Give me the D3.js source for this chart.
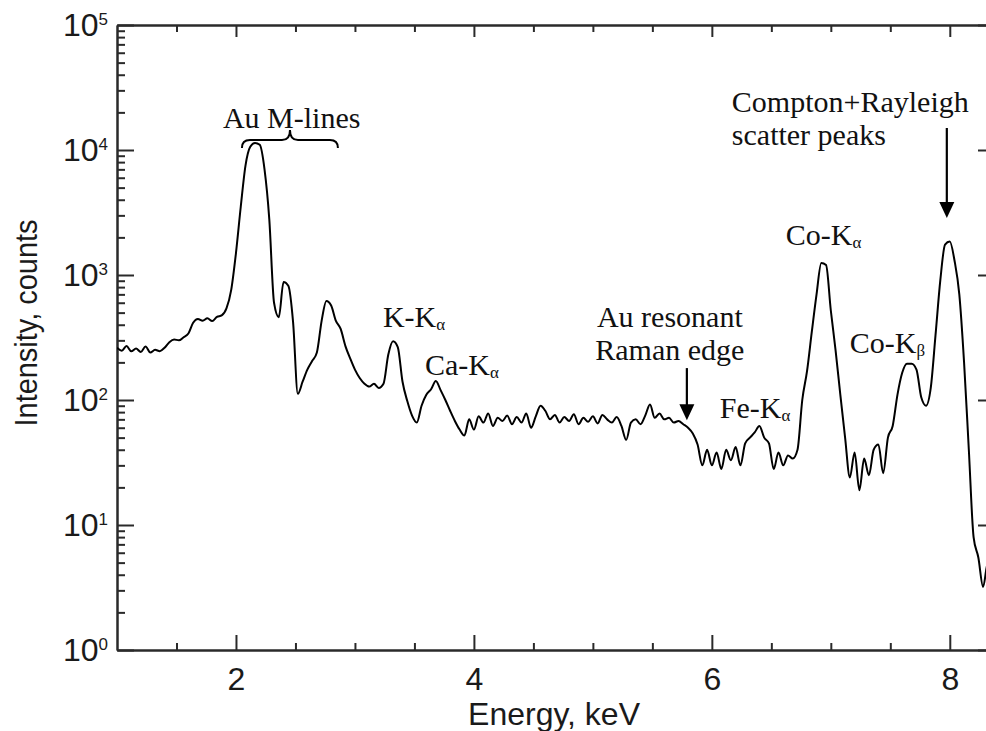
<!DOCTYPE html>
<html>
<head>
<meta charset="utf-8">
<script src="https://cdn.jsdelivr.net/npm/d3@7"></script>
<style>
  body { margin: 0; background: #fff; }
  svg { display: block; }
  .axis path, .axis line { stroke: #2a2a2a; stroke-width: 2; }
  .axis text { font-family: "Liberation Sans", Arial, Helvetica, sans-serif; font-size: 32px; fill: #1a1a1a; }
  .title { font-family: "Liberation Sans", Arial, Helvetica, sans-serif; font-size: 32px; fill: #1a1a1a; }
  .note { font-family: "Liberation Serif", "Times New Roman", serif; font-size: 30px; fill: #111; }
</style>
</head>
<body>
<svg id="chart" width="986" height="731"></svg>
<script>
// XRF spectrum: counts per 0.04 keV channel, starting at 1.00 keV
const channelStart = 1.0;
const channelWidth = 0.04;
const counts = [
  // 1.00 - 1.96 keV
  262, 248, 270, 245, 258, 242, 268, 240, 252, 246, 262, 290, 305, 300, 318, 340, 415, 445, 430, 450, 428, 462, 475, 540, 760,
  // 2.00 - 2.96 keV
  1500, 3500, 7500, 10600, 11400, 11000, 7000, 2800, 600, 460, 880, 820, 420, 112, 140, 175, 205, 240, 430, 620, 570, 430, 370, 270, 215,
  // 3.00 - 3.96 keV
  175, 150, 135, 128, 135, 125, 135, 230, 295, 265, 140, 98, 75, 66, 90, 110, 122, 142, 120, 100, 82, 68, 58, 52, 70,
  // 4.00 - 4.96 keV
  58, 74, 66, 78, 62, 72, 68, 75, 64, 73, 66, 78, 60, 74, 90, 82, 70, 76, 66, 73, 68, 77, 64, 72, 67,
  // 5.00 - 5.96 keV
  74, 65, 76, 70, 66, 73, 62, 48, 66, 70, 64, 75, 92, 72, 78, 70, 72, 66, 68, 64, 60, 54, 44, 30, 40,
  // 6.00 - 6.96 keV
  30, 38, 28, 40, 33, 42, 30, 45, 50, 55, 62, 50, 45, 28, 38, 30, 36, 34, 40, 100, 170, 350, 700, 1250, 1200,
  // 7.00 - 7.96 keV
  520, 250, 110, 50, 24, 38, 19, 34, 25, 40, 44, 26, 50, 62, 110, 165, 195, 195, 175, 105, 90, 125, 330, 900, 1750,
  // 8.00 - 8.36 keV
  1850, 1300, 700, 200, 40, 8, 5.5, 3.2, 5, 4
];

const energyDomain = [1, 8.38];
const countDomain = [1, 1e5];
const majorEnergyTicks = [2, 4, 6, 8];
const minorEnergyTicks = [1.5, 2.5, 3, 3.5, 4.5, 5, 5.5, 6.5, 7, 7.5];
const decadeTicks = [1, 10, 100, 1000, 10000, 100000];
const minorCountTicks = [];
[1, 10, 100, 1000, 10000].forEach(b => [2,3,4,5,6,7,8,9].forEach(m => minorCountTicks.push(b * m)));

// Line labels placed in (energy keV, counts) coordinates
const lineLabels = [
  { main: "K-K",  sub: "\u03b1", e: 3.235, c: 384 },
  { main: "Ca-K", sub: "\u03b1", e: 3.588, c: 158 },
  { main: "Fe-K", sub: "\u03b1", e: 6.067, c: 72 },
  { main: "Co-K", sub: "\u03b1", e: 6.622, c: 1738 },
  { main: "Co-K", sub: "\u03b2", e: 7.16,  c: 238 }
];
const plainLabels = [
  { text: "Au M-lines",       e: 1.89,  c: 15000 },
  { text: "Au resonant",      e: 5.034, c: 384 },
  { text: "Raman edge",       e: 5.02,  c: 209 },
  { text: "Compton+Rayleigh", e: 6.168, c: 20140 },
  { text: "scatter peaks",    e: 6.168, c: 10965 }
];
const arrows = [
  { e: 5.79,  from: 180,   to: 69 },
  { e: 7.975, from: 15000, to: 2858 }
];

(function draw() {
  const svg = d3.select("#chart");
  const plotLeft = 117, plotRight = 995, plotTop = 25, plotBottom = 650;

  const x = d3.scaleLinear().domain(energyDomain).range([plotLeft, plotRight]);
  const y = d3.scaleLog().domain(countDomain).range([plotBottom, plotTop]);

  // Axes (ticks point inward)
  svg.append("g").attr("class", "axis").attr("transform", `translate(0,${plotBottom})`)
    .call(d3.axisBottom(x).tickValues(majorEnergyTicks).tickSize(-15).tickSizeOuter(0).tickPadding(17).tickFormat(d3.format("d")));
  svg.append("g").attr("class", "axis").attr("transform", `translate(0,${plotBottom})`)
    .call(d3.axisBottom(x).tickValues(minorEnergyTicks).tickSize(-7).tickSizeOuter(0).tickFormat(""));
  svg.append("g").attr("class", "axis").attr("transform", `translate(0,${plotTop})`)
    .call(d3.axisTop(x).tickValues(majorEnergyTicks).tickSize(-12).tickSizeOuter(0).tickFormat(""));
  svg.append("g").attr("class", "axis").attr("transform", `translate(0,${plotTop})`)
    .call(d3.axisTop(x).tickValues(minorEnergyTicks).tickSize(-7).tickSizeOuter(0).tickFormat(""));

  const yAxisG = svg.append("g").attr("class", "axis").attr("transform", `translate(${plotLeft},0)`)
    .call(d3.axisLeft(y).tickValues(decadeTicks).tickSize(-17).tickSizeOuter(0).tickPadding(9).tickFormat(""));
  yAxisG.selectAll(".tick text").each(function(d) {
    const t = d3.select(this);
    t.append("tspan").text("10");
    t.append("tspan").attr("dy", -11).attr("font-size", 17).text(Math.round(Math.log10(d)));
  });
  svg.append("g").attr("class", "axis").attr("transform", `translate(${plotLeft},0)`)
    .call(d3.axisLeft(y).tickValues(minorCountTicks).tickSize(-8).tickSizeOuter(0).tickFormat(""));
  svg.append("g").attr("class", "axis").attr("transform", `translate(${plotRight},0)`)
    .call(d3.axisRight(y).tickValues(decadeTicks).tickSize(-17).tickSizeOuter(0).tickFormat(""));
  svg.append("g").attr("class", "axis").attr("transform", `translate(${plotRight},0)`)
    .call(d3.axisRight(y).tickValues(minorCountTicks).tickSize(-8).tickSizeOuter(0).tickFormat(""));

  // Axis titles
  svg.append("text").attr("class", "title")
    .attr("x", (plotLeft + plotRight) / 2 - 2).attr("y", 725).attr("text-anchor", "middle")
    .text("Energy, keV");
  svg.append("text").attr("class", "title")
    .attr("transform", "translate(37,323) rotate(-90)").attr("text-anchor", "middle")
    .attr("textLength", 207).attr("lengthAdjust", "spacingAndGlyphs")
    .text("Intensity, counts");

  // Spectrum
  svg.append("clipPath").attr("id", "plotClip")
    .append("rect").attr("x", plotLeft).attr("y", plotTop)
    .attr("width", plotRight - plotLeft).attr("height", plotBottom - plotTop);

  const line = d3.line()
    .x((d, i) => x(channelStart + i * channelWidth))
    .y(d => y(d))
    .curve(d3.curveMonotoneX);

  svg.append("path")
    .datum(counts)
    .attr("clip-path", "url(#plotClip)")
    .attr("fill", "none")
    .attr("stroke", "#000")
    .attr("stroke-width", 2)
    .attr("stroke-linejoin", "round")
    .attr("d", line);

  // Annotations
  plainLabels.forEach(l => {
    svg.append("text").attr("class", "note").attr("x", x(l.e)).attr("y", y(l.c)).text(l.text);
  });
  lineLabels.forEach(l => {
    const t = svg.append("text").attr("class", "note").attr("x", x(l.e)).attr("y", y(l.c));
    t.append("tspan").text(l.main);
    t.append("tspan").attr("font-size", 17).attr("dy", 3).text(l.sub);
  });

  arrows.forEach(a => {
    const ax = x(a.e), y0 = y(a.from), y1 = y(a.to);
    svg.append("line").attr("x1", ax).attr("x2", ax).attr("y1", y0).attr("y2", y1 - 12)
      .attr("stroke", "#000").attr("stroke-width", 2.2);
    svg.append("path").attr("d", `M${ax - 7.5},${y1 - 16} L${ax + 7.5},${y1 - 16} L${ax},${y1} Z`).attr("fill", "#000");
  });

  // Brace over the Au M-line group
  const xa = x(2.05), xb = x(2.857), xm = x(2.454);
  const yb = y(12000), ye = y(10370), yc = y(14450);
  svg.append("path")
    .attr("d", `M${xa},${ye} Q${xa},${yb} ${xa + 8},${yb} L${xm - 8},${yb} Q${xm},${yb} ${xm},${yc} Q${xm},${yb} ${xm + 8},${yb} L${xb - 8},${yb} Q${xb},${yb} ${xb},${ye}`)
    .attr("fill", "none").attr("stroke", "#000").attr("stroke-width", 2);
})();
</script>
</body>
</html>
